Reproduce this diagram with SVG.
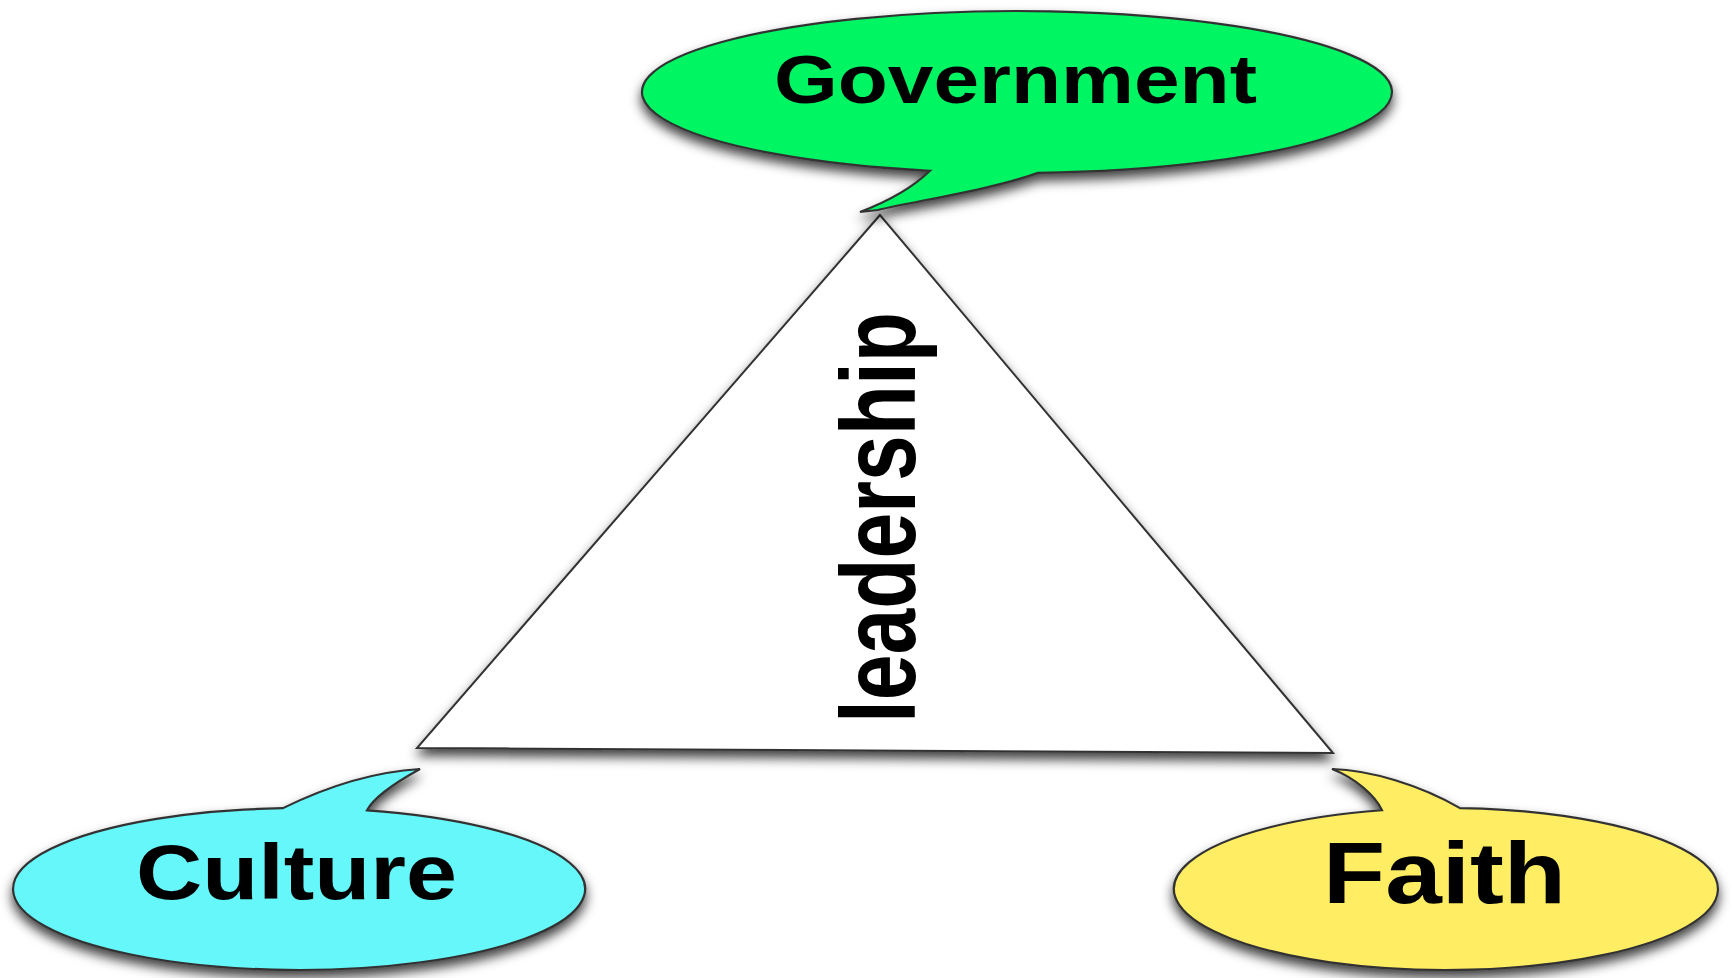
<svg xmlns="http://www.w3.org/2000/svg" width="1732" height="978" viewBox="0 0 1732 978">
<defs>
<filter id="sh" x="-10%" y="-20%" width="120%" height="160%">
<feDropShadow dx="0" dy="7" stdDeviation="6" flood-color="#000" flood-opacity="0.75"/>
</filter>
<style>
.bub{stroke:#333;stroke-width:2.2;stroke-linejoin:miter;filter:url(#sh)}
.lbl{font-family:"Liberation Sans",Arial,sans-serif;font-weight:bold;fill:#000;text-anchor:middle}
</style>
</defs>
<rect width="1732" height="978" fill="#fff"/>
<g id="triangle">
<polygon points="880,215 417,748 1333,753" fill="#fff" stroke="#333" stroke-width="2" filter="url(#sh)"/>
<text class="lbl" transform="translate(915,517.5) rotate(-90)" font-size="106" textLength="411" lengthAdjust="spacingAndGlyphs">leadership</text>
</g>
<g id="connectors"></g>
<g id="government">
<path class="bub" fill="#00F564" d="M930,170.79 A375,81 0 1 1 1038,172.87 C990,190 920,200 878,210 L860,212 Q905,195 930,170.79 Z"/>
<text class="lbl" x="1015.5" y="103" font-size="68" textLength="483" lengthAdjust="spacingAndGlyphs">Government</text>
</g>
<g id="culture">
<path class="bub" fill="#66F7FA" d="M367,810.32 A286,81 0 1 1 283,808.13 C320,790 370,772 420,769 C400,780 375,795 367,810.32 Z"/>
<text class="lbl" x="296.5" y="899" font-size="78" textLength="321" lengthAdjust="spacingAndGlyphs">Culture</text>
</g>
<g id="faith">
<path class="bub" fill="#FFED63" d="M1460,808.11 A272,81 0 1 1 1382,810.27 C1375,795 1355,778 1332,769 C1370,770 1420,785 1460,808.11 Z"/>
<text class="lbl" x="1444.5" y="903" font-size="88" textLength="243" lengthAdjust="spacingAndGlyphs">Faith</text>
</g>
</svg>
